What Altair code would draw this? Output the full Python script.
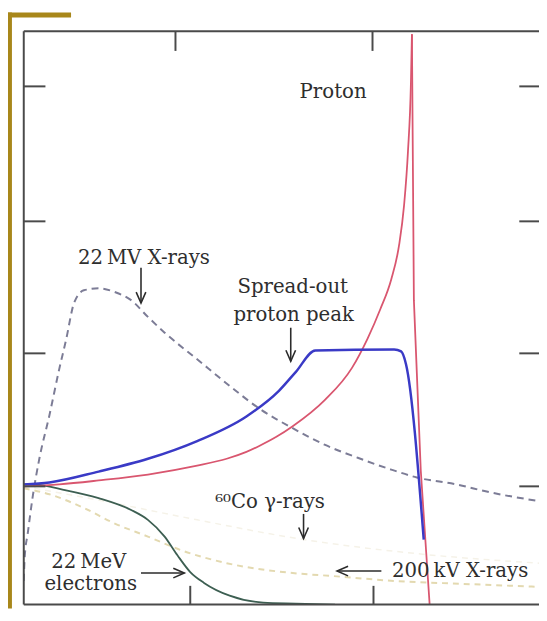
import altair as alt
import pandas as pd

# Depth (x) and relative dose (y) in arbitrary units
mv22_x = [0, 1, 4, 9, 16, 26, 36, 43, 51, 61, 76, 93, 109, 126, 143, 176, 209, 239, 273, 306, 339, 373, 399, 439, 473, 523]
mv22_y = [24, 49, 72, 109, 149, 192, 239, 269, 306, 319, 321, 317, 309, 292, 276, 249, 222, 199, 179, 162, 149, 137, 129, 122, 114, 105]

sobp_x = [0, 26, 76, 126, 176, 226, 259, 276, 296, 376, 383, 388, 406]
sobp_y = [122, 124, 135, 148, 166, 191, 217, 236, 258, 259, 257, 244, 66]

proton_rise_x = [0, 36, 76, 126, 176, 206, 226, 239, 256, 273, 306, 333, 349, 362, 373, 381, 386, 390, 393, 394]
proton_rise_y = [120, 122, 126, 132, 141, 148, 155, 161, 170, 181, 208, 240, 270, 300, 330, 365, 405, 460, 530, 579]
proton_fall_x = [394, 396, 403, 412]
proton_fall_y = [579, 309, 136, 0]

elec_x = [0, 9, 43, 76, 109, 126, 143, 156, 169, 183, 209, 243, 276, 316]
elec_y = [122, 122, 116, 108, 96, 86, 69, 50, 33, 22, 9, 2, 1, 0]

kv200_x = [0, 26, 59, 93, 126, 163, 206, 273, 313, 376, 446, 523]
kv200_y = [118, 112, 99, 82, 69, 54, 42, 32, 29, 24, 21, 18]

co60_x = [0, 76, 176, 284, 396, 523]
co60_y = [120, 106, 86, 66, 52, 42]

# Tick positions
y_ticks = [120, 255, 389, 526]
top_ticks = [154, 354]
bottom_ticks = [169, 355]

# Labels
label_text = ["Proton", "22\u2009MV X-rays", "Spread-out", "proton peak",
              "\u2076\u2070Co \u03b3-rays", "22\u2009MeV", "electrons", "200\u2009kV X-rays"]
label_x = [314, 122, 273, 274, 250, 66, 68, 443]
label_y = [520, 352, 322, 294, 104, 43, 21, 34]

# Arrows: start -> tip
arrow_x = [119, 271, 284, 119, 363]
arrow_y = [342, 281, 92, 32, 34]
arrow_x2 = [119, 271, 284, 163, 318]
arrow_y2 = [306, 247, 67, 32, 34]
arrow_angle = [0, 0, 0, 270, 90]

W, H = 523, 582

series = [
    ("22 MV", mv22_x, mv22_y),
    ("SOBP", sobp_x, sobp_y),
    ("ProtonRise", proton_rise_x, proton_rise_y),
    ("ProtonFall", proton_fall_x, proton_fall_y),
    ("Electrons", elec_x, elec_y),
    ("200 kV", kv200_x, kv200_y),
    ("Co60", co60_x, co60_y),
]
rows = []
for name, xs_, ys_ in series:
    for i, (a, b) in enumerate(zip(xs_, ys_)):
        rows.append({"s": name, "i": i, "x": a, "y": b})
df = pd.DataFrame(rows)

xs = alt.Scale(domain=[0, W], nice=False, zero=False)
ys = alt.Scale(domain=[0, H], nice=False, zero=False)


def line(name, color, width, dash=None, interp="monotone"):
    kw = dict(color=color, strokeWidth=width, clip=True, interpolate=interp)
    if dash:
        kw["strokeDash"] = dash
    return alt.Chart(df).transform_filter(alt.datum.s == name).mark_line(**kw).encode(
        x=alt.X("x:Q", scale=xs, axis=None),
        y=alt.Y("y:Q", scale=ys, axis=None),
        order=alt.Order("i:Q"),
    )


layers = []
# gold decoration bars
gold = "#a8871a"
one = pd.DataFrame({"a": [0]})
layers.append(alt.Chart(one).mark_rect(color=gold).encode(
    x=alt.value(-16), x2=alt.value(-12), y=alt.value(-19), y2=alt.value(H + 4)))
layers.append(alt.Chart(one).mark_rect(color=gold).encode(
    x=alt.value(-16), x2=alt.value(48), y=alt.value(-19), y2=alt.value(-14)))

layers += [
    line("Co60", "#f5f2e8", 1.5, [6, 5]),
    line("200 kV", "#e3d9b0", 2, [6, 5]),
    line("22 MV", "#7c7c96", 2, [7, 5]),
    line("Electrons", "#3d5f52", 1.8),
    line("ProtonRise", "#d9566f", 1.8),
    line("ProtonFall", "#d9566f", 1.8, interp="linear"),
    line("SOBP", "#3a3ac6", 2.5),
]

frame_color = "#4a4a4a"
layers.append(alt.Chart(one).mark_rule(color=frame_color, strokeWidth=2).encode(
    x=alt.value(0), y=alt.value(0), y2=alt.value(H)))
layers.append(alt.Chart(one).mark_rule(color=frame_color, strokeWidth=2).encode(
    x=alt.value(0), x2=alt.value(W), y=alt.value(0)))
layers.append(alt.Chart(one).mark_rule(color=frame_color, strokeWidth=2).encode(
    x=alt.value(0), x2=alt.value(W), y=alt.value(H)))

ytk = pd.DataFrame({"v": y_ticks})
layers.append(alt.Chart(ytk).mark_rule(color=frame_color, strokeWidth=2).encode(
    y=alt.Y("v:Q", scale=ys, axis=None), x=alt.value(0), x2=alt.value(22)))
layers.append(alt.Chart(ytk).mark_rule(color=frame_color, strokeWidth=2).encode(
    y=alt.Y("v:Q", scale=ys, axis=None), x=alt.value(W - 20), x2=alt.value(W)))
layers.append(alt.Chart(pd.DataFrame({"v": top_ticks})).mark_rule(color=frame_color, strokeWidth=2).encode(
    x=alt.X("v:Q", scale=xs, axis=None), y=alt.value(0), y2=alt.value(20)))
layers.append(alt.Chart(pd.DataFrame({"v": bottom_ticks})).mark_rule(color=frame_color, strokeWidth=2).encode(
    x=alt.X("v:Q", scale=xs, axis=None), y=alt.value(H - 19), y2=alt.value(H)))

arr = pd.DataFrame({"x": arrow_x, "y": arrow_y, "x2": arrow_x2, "y2": arrow_y2, "ang": arrow_angle})
layers.append(alt.Chart(arr).mark_rule(color="#2b2b2b", strokeWidth=1.6).encode(
    x=alt.X("x:Q", scale=xs, axis=None), y=alt.Y("y:Q", scale=ys, axis=None),
    x2="x2:Q", y2="y2:Q"))
layers.append(alt.Chart(arr).mark_point(
    shape="M-0.7,-1.6L0,0L0.7,-1.6", filled=False, color="#2b2b2b", strokeWidth=1.6,
    size=196, opacity=1).encode(
    x=alt.X("x2:Q", scale=xs, axis=None), y=alt.Y("y2:Q", scale=ys, axis=None),
    angle=alt.Angle("ang:Q", scale=None)))

lab = pd.DataFrame({"t": label_text, "x": label_x, "y": label_y})
layers.append(alt.Chart(lab).mark_text(
    font="DejaVu Serif", fontSize=20, color="#2e2e2e", align="center", baseline="middle").encode(
    x=alt.X("x:Q", scale=xs, axis=None), y=alt.Y("y:Q", scale=ys, axis=None), text="t:N"))

chart = alt.layer(*layers).properties(
    width=W, height=H,
    padding={"left": 16, "top": 19, "right": 0, "bottom": 4},
    autosize="none",
    background="white",
).configure_view(stroke=None)

chart.save("out.html", embed_options={"renderer": "svg", "actions": False})
